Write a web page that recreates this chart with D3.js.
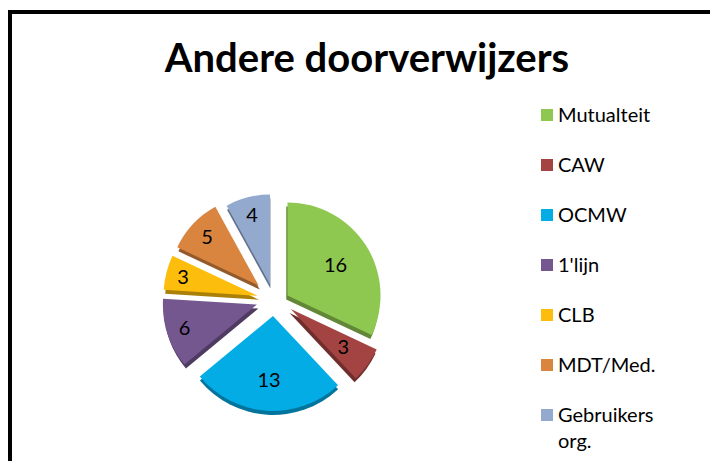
<!DOCTYPE html>
<html>
<head>
<meta charset="utf-8">
<script src="https://cdn.jsdelivr.net/npm/d3@7"></script>
<style>
  html, body { margin: 0; padding: 0; background: #fff; }
  svg { display: block; }
  text { font-family: Lato, "Open Sans", sans-serif; fill: #000; }
</style>
</head>
<body>
<div id="chart"></div>
<script>
const categories = ["Mutualteit", "CAW", "OCMW", "1'lijn", "CLB", "MDT/Med.", "Gebruikers org."];
const values = [16, 3, 13, 6, 3, 5, 4];
const colors = ["#8fc851", "#a44442", "#04ace6", "#74578f", "#fdbd0c", "#d9853f", "#93a9ce"];

// the slices are not regular: perspective makes the back ones smaller
const radii = [93, 95, 95, 94, 94, 90, 90];
const pulls = [16, 17, 16, 18, 17, 21, 16];
const nudgeX = [0, 3, 0, 0, 0, 0, 0];
const nudgeY = [4, -1, 0, -1, 0, 0, 0];
const labelRadii = [57, 65, 64, 76, 77, 71, 72];

const width = 710, height = 461;
const cx = 274, cy = 300;

const svg = d3.select("#chart").append("svg")
  .attr("width", width)
  .attr("height", height);

// frame, cut off by the right and bottom of the picture
svg.append("path")
  .attr("d", d3.line()([[10, height], [10, 12], [width, 12]]))
  .attr("fill", "none")
  .attr("stroke", "#000")
  .attr("stroke-width", 4);

svg.append("text")
  .attr("x", 367)
  .attr("y", 72)
  .attr("text-anchor", "middle")
  .attr("font-size", 40)
  .attr("font-weight", 700)
  .text("Andere doorverwijzers");

const pie = d3.pie().sort(null).value(d => d);
const arcs = pie(values);

function mid(d) { return (d.startAngle + d.endAngle) / 2; }

function origin(d) {
  let a = mid(d), p = pulls[d.index];
  return [cx + p * Math.sin(a) + nudgeX[d.index], cy - p * Math.cos(a) + nudgeY[d.index]];
}

function slicePath(d) {
  return d3.arc().innerRadius(0).outerRadius(radii[d.index])(d);
}

const chart = svg.append("g");

const slices = chart.selectAll("g.slice")
  .data(arcs)
  .enter()
  .append("g")
  .attr("class", "slice")
  .attr("transform", d => "translate(" + origin(d) + ")");

// rim below the slice, pulled a bit to the middle of the pie
slices.append("path")
  .attr("fill", d => d3.color(colors[d.index]).darker(1.1))
  .attr("transform", d => "translate(" + (-1.5 * Math.sin(mid(d))) + ",4)")
  .attr("d", slicePath);

slices.append("path")
  .attr("fill", d => colors[d.index])
  .attr("d", slicePath);

slices.append("text")
  .attr("x", d => labelRadii[d.index] * Math.sin(mid(d)))
  .attr("y", d => -labelRadii[d.index] * Math.cos(mid(d)))
  .attr("dy", "0.36em")
  .attr("text-anchor", "middle")
  .attr("font-size", 20)
  .text(d => d.value);

const legendY = d3.scalePoint()
  .domain(categories)
  .range([115, 415]);

const legend = svg.selectAll("g.legend")
  .data(categories)
  .enter()
  .append("g")
  .attr("class", "legend")
  .attr("transform", d => "translate(541," + legendY(d) + ")");

legend.append("rect")
  .attr("y", -6)
  .attr("width", 12)
  .attr("height", 12)
  .attr("fill", (d, i) => colors[i]);

legend.append("text")
  .attr("x", 17)
  .attr("y", 7)
  .attr("font-size", 20)
  .selectAll("tspan")
  .data(d => d.split(" "))
  .enter()
  .append("tspan")
  .attr("x", 17)
  .attr("dy", (d, i) => i ? 26 : 0)
  .text(d => d);
</script>
</body>
</html>
